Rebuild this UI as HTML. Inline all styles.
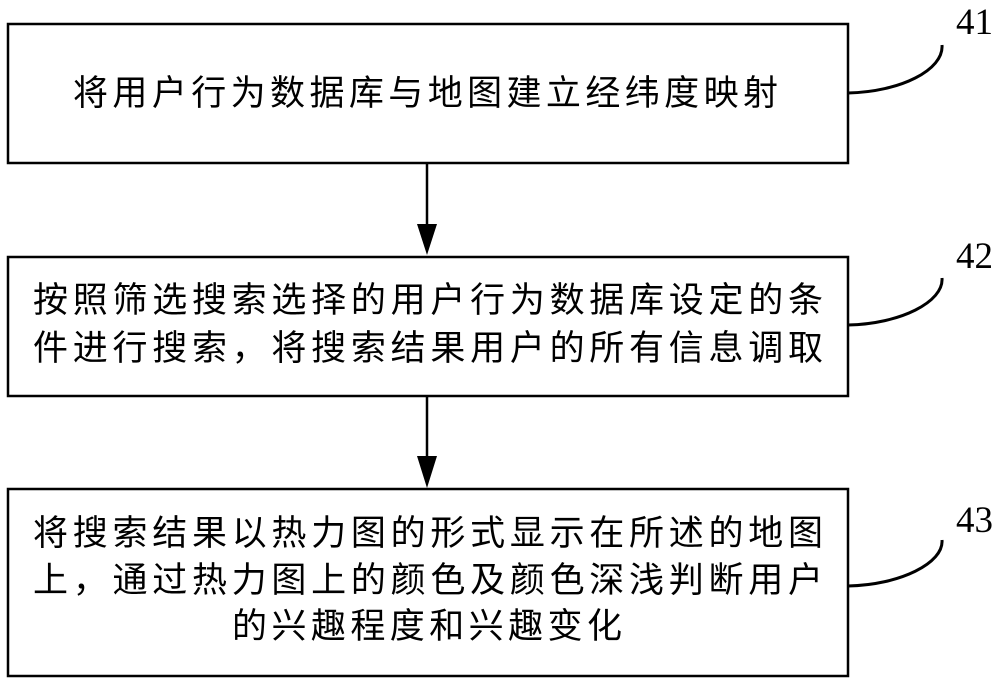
<!DOCTYPE html>
<html><head><meta charset="utf-8"><style>
html,body{margin:0;padding:0;background:#fff;}
svg{display:block;}
text{font-family:"Liberation Serif","Noto Sans CJK SC",serif;fill:#000;}
.c{font-size:35px;}
.n{font-size:37px;}
</style></head><body>
<svg width="1000" height="682" viewBox="0 0 1000 682" xmlns="http://www.w3.org/2000/svg">
<g fill="none" stroke="#000" stroke-width="2.5">
<rect x="8" y="24" width="840" height="139"/>
<rect x="8" y="257" width="840" height="139"/>
<rect x="8" y="489" width="840" height="187"/>
<line x1="427" y1="163" x2="427" y2="226"/>
<line x1="427" y1="396" x2="427" y2="458"/>
<path d="M848 93 C900 92 944 70 942 45" stroke-width="3"/>
<path d="M848 325 C900 324 944 302 942 278" stroke-width="3"/>
<path d="M848 586 C900 585 944 563 942 540" stroke-width="3"/>
</g>
<polygon points="417,224 437,224 427,255" fill="#000"/>
<polygon points="417,456 437,456 427,488" fill="#000"/>
<text class="n" x="956" y="34">41</text>
<text class="n" x="956" y="268">42</text>
<text class="n" x="956" y="532">43</text>
<text class="c" x="73" y="105" textLength="705" lengthAdjust="spacing">将用户行为数据库与地图建立经纬度映射</text>
<text class="c" x="33" y="312" textLength="790" lengthAdjust="spacing">按照筛选搜索选择的用户行为数据库设定的条</text>
<text class="c" x="33" y="360" textLength="790" lengthAdjust="spacing">件进行搜索，将搜索结果用户的所有信息调取</text>
<text class="c" x="33" y="545" textLength="790" lengthAdjust="spacing">将搜索结果以热力图的形式显示在所述的地图</text>
<text class="c" x="33" y="592" textLength="790" lengthAdjust="spacing">上，通过热力图上的颜色及颜色深浅判断用户</text>
<text class="c" x="232" y="638" textLength="390" lengthAdjust="spacing">的兴趣程度和兴趣变化</text>
</svg>
</body></html>
